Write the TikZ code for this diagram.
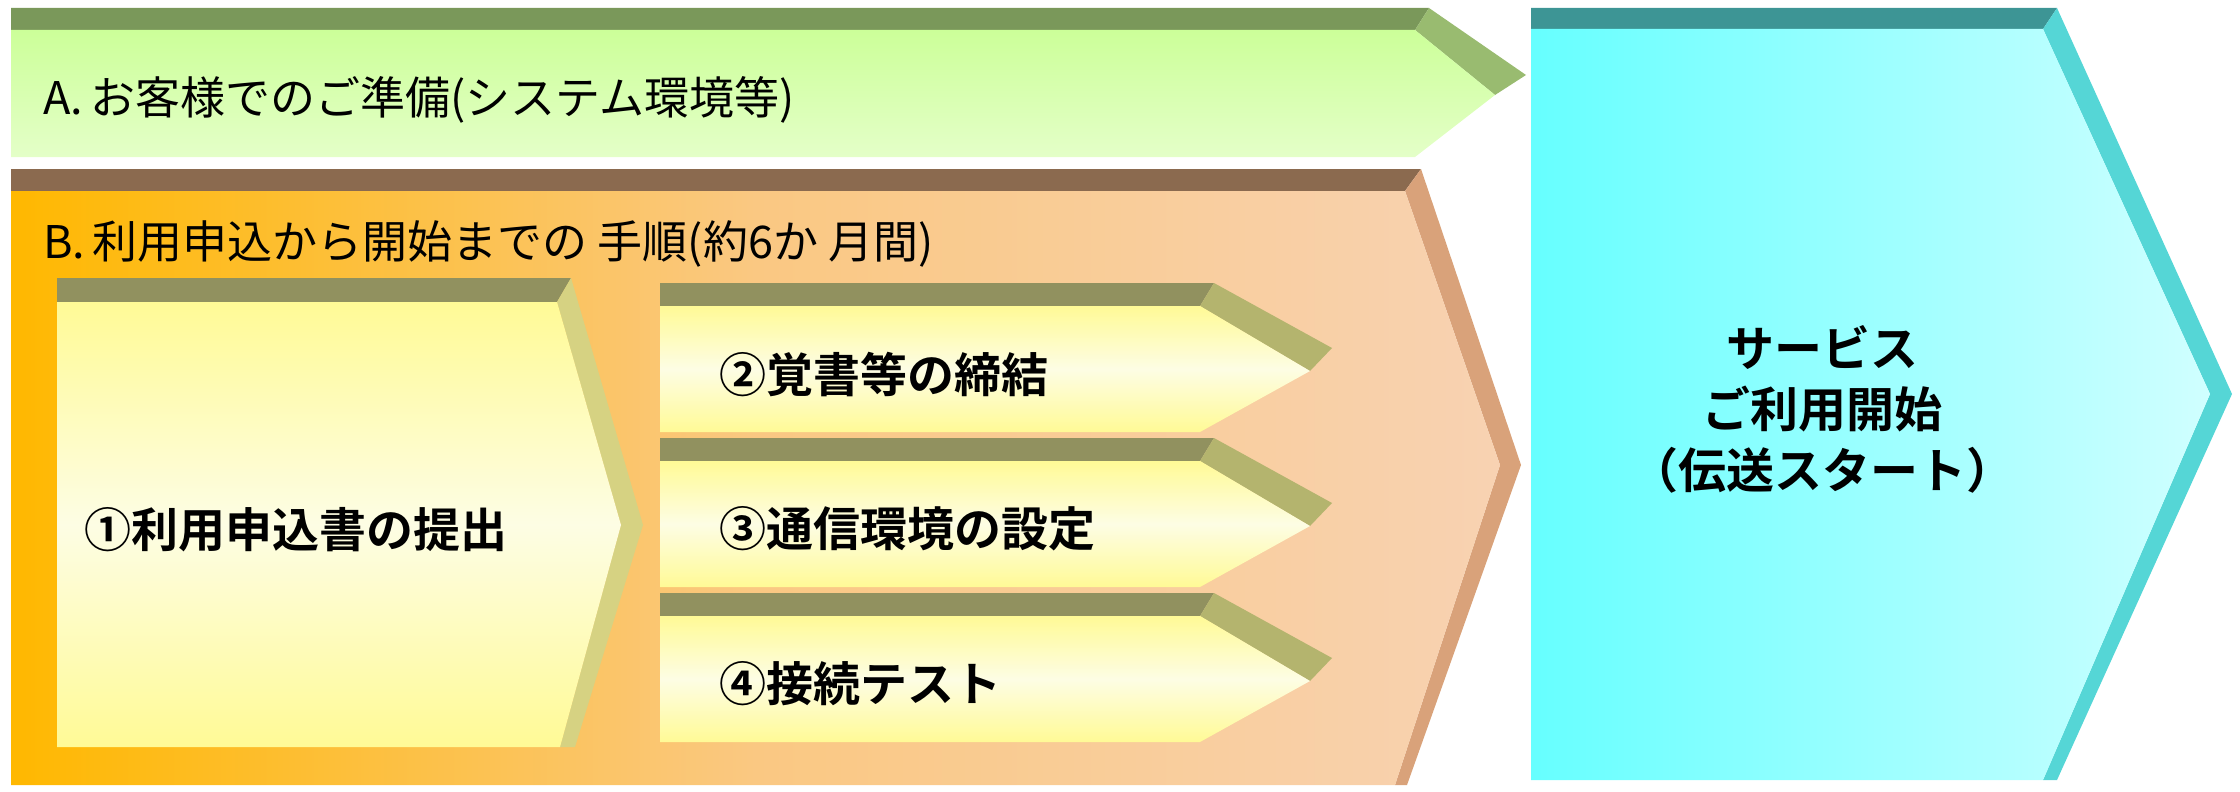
\documentclass[tikz,border=0pt]{standalone}
\usepackage{fontspec}
\setmainfont{Noto Sans CJK JP}[BoldFont={* Bold}]
\definecolor{gband}{RGB}{122,152,90}
\definecolor{gside}{RGB}{153,187,112}
\definecolor{gtop}{RGB}{204,255,153}
\definecolor{gbot}{RGB}{228,255,200}
\definecolor{oband}{RGB}{139,106,79}
\definecolor{oside}{RGB}{217,162,122}
\definecolor{oleft}{RGB}{255,184,0}
\definecolor{omid}{RGB}{250,200,130}
\definecolor{oright}{RGB}{248,210,178}
\definecolor{yband}{RGB}{145,145,95}
\definecolor{yside}{RGB}{214,210,130}
\definecolor{yside2}{RGB}{180,180,110}
\definecolor{ytop}{RGB}{255,250,150}
\definecolor{ymid}{RGB}{253,253,228}
\definecolor{cband}{RGB}{61,149,149}
\definecolor{cside}{RGB}{85,214,214}
\definecolor{cleft}{RGB}{102,255,255}
\definecolor{cright}{RGB}{208,255,255}
\begin{document}
\begin{tikzpicture}[x=1pt,y=-1pt,
  lbl/.style={anchor=west,inner sep=0pt,font=\fontsize{45}{50}\selectfont},
  blbl/.style={anchor=west,inner sep=0pt,font=\bfseries\fontsize{47}{52}\selectfont}]
\useasboundingbox (0,0) rectangle (2240,792);
% A green
\fill[gband] (11,8) -- (1429,8) -- (1415,30) -- (11,30) -- cycle;
\fill[gside] (1429,8) -- (1526,75) -- (1495,95) -- (1415,30) -- cycle;
\shade[top color=gtop, bottom color=gbot] (11,30) -- (1415,30) -- (1495,95) -- (1415,157) -- (11,157) -- cycle;
\node[lbl] (a) at (43,100) {A.\,お客様でのご準備(システム環境等)};
% B orange
\fill[oband] (11,169) -- (1421,169) -- (1405,191) -- (11,191) -- cycle;
\fill[oside] (1421,169) -- (1521,465) -- (1407,785) -- (1395,785) -- (1500,465) -- (1405,191) -- cycle;
\shade[left color=oleft, right color=oright, middle color=omid] (11,191) -- (1405,191) -- (1500,465) -- (1395,785) -- (11,785) -- cycle;
\node[lbl] (b) at (43,244) {B.\,利用申込から開始までの 手順(約6か 月間)};
% item 1
\fill[yband] (57,278) -- (571,278) -- (557,302) -- (57,302) -- cycle;
\fill[yside] (571,278) -- (643,525) -- (575,747) -- (560,747) -- (621,525) -- (557,302) -- cycle;
\shade[top color=ytop, bottom color=ytop, middle color=ymid] (57,302) -- (557,302) -- (621,525) -- (560,747) -- (57,747) -- cycle;
\node[blbl] (i1) at (84,530) {①利用申込書の提出};
% items 2-4
\foreach \t/\n/\s in {283/i2/②覚書等の締結, 438/i3/③通信環境の設定, 593/i4/④接続テスト}{
  \fill[yband] (660,\t) -- (1214,\t) -- (1200,\t+23) -- (660,\t+23) -- cycle;
  \fill[yside2] (1214,\t) -- (1332,\t+65) -- (1310,\t+88) -- (1200,\t+23) -- cycle;
  \shade[top color=ytop, bottom color=ytop, middle color=ymid] (660,\t+23) -- (1200,\t+23) -- (1310,\t+88) -- (1200,\t+149) -- (660,\t+149) -- cycle;
  \node[blbl] (\n) at (719,\t+91) {\s};
}
% cyan
\fill[cband] (1531,8) -- (2057,8) -- (2043,29) -- (1531,29) -- cycle;
\fill[cside] (2057,8) -- (2232,394) -- (2057,780) -- (2043,780) -- (2210,394) -- (2043,29) -- cycle;
\shade[left color=cleft, right color=cright] (1531,29) -- (2043,29) -- (2210,394) -- (2043,780) -- (1531,780) -- cycle;
\node[font=\bfseries\fontsize{48}{61}\selectfont, align=center] (s) at (1822,409) {サービス\\ご利用開始\\（伝送スタート）};
\end{tikzpicture}
\end{document}
